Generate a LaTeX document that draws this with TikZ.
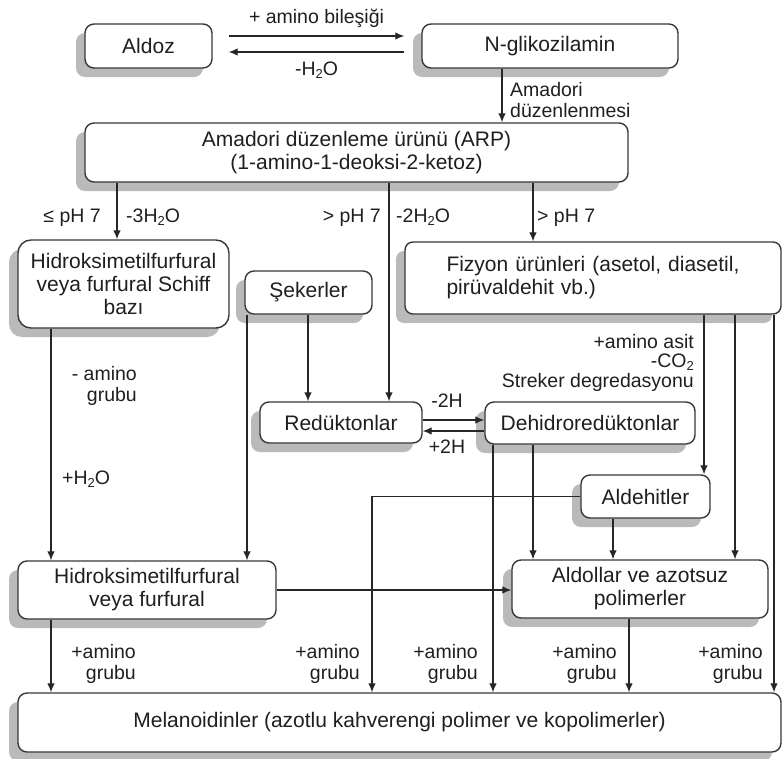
\documentclass[tikz,border=0pt]{standalone}
\usepackage{fontspec}
\setmainfont{Liberation Sans}
\usetikzlibrary{arrows.meta,shadows}
\newcommand{\subtwo}{\raisebox{-3pt}{\fontsize{13}{13}\selectfont 2}}
\begin{document}
\begin{tikzpicture}[x=1pt,y=-1pt,
  box/.style={draw=black!78, line width=1.4pt, rounded corners=9pt, fill=white, text=black!88,
    align=center, inner sep=0pt, font=\fontsize{21}{23}\selectfont,
    drop shadow={shadow xshift=-9pt, shadow yshift=-9pt, fill=black!27, opacity=1}},
  arr/.style={draw=black!85, line width=1.1pt, -{Latex[length=9pt,width=7.5pt]}},
  lab/.style={text=black!88, font=\fontsize{19.5}{21}\selectfont, inner sep=0pt}]
\useasboundingbox (0,0) rectangle (782,758);

% column / row coordinates
\coordinate (x51) at (51,0);
\coordinate (x117) at (117,0);
\coordinate (x247) at (247,0);
\coordinate (x308) at (308,0);
\coordinate (x372) at (372,0);
\coordinate (x389) at (389,0);
\coordinate (x493) at (493,0);
\coordinate (x502) at (502,0);
\coordinate (x533) at (533,0);
\coordinate (x613) at (613,0);
\coordinate (x629) at (629,0);
\coordinate (x704) at (704,0);
\coordinate (x735) at (735,0);
\coordinate (x774) at (774,0);
\coordinate (y420) at (0,420);
\coordinate (y431) at (0,431);

% nodes
\node[box, minimum width=127pt, minimum height=44pt] (aldoz) at (148.5,46) {Aldoz};
\node[box, minimum width=256pt, minimum height=44pt] (nglik) at (550,46) {N-glikozilamin};
\node[box, minimum width=543pt, minimum height=59pt] (arp) at (356.5,152.5) {Amadori düzenleme ürünü (ARP)\\(1-amino-1-deoksi-2-ketoz)};
\node[box, rounded corners=13pt, minimum width=211pt, minimum height=88pt] (hmfs) at (123.5,284) {Hidroksimetilfurfural\\veya furfural Schiff\\bazı};
\node[box, minimum width=127pt, minimum height=43pt] (seker) at (308.5,292.5) {Şekerler};
\node[box, rounded corners=8pt, minimum width=376pt, minimum height=72pt, text width=293pt, align=left] (fiz) at (593,278) {Fizyon ürünleri (asetol, diasetil,\\pirüvaldehit vb.)};
\node[box, minimum width=162pt, minimum height=41pt] (red) at (341,422.5) {Redüktonlar};
\node[box, minimum width=210pt, minimum height=42pt] (dehid) at (590,423) {Dehidroredüktonlar};
\node[box, minimum width=129pt, minimum height=43pt] (ald) at (645.5,496.5) {Aldehitler};
\node[box, minimum width=258pt, minimum height=58pt] (hmf) at (147,590) {Hidroksimetilfurfural\\veya furfural};
\node[box, minimum width=256pt, minimum height=58pt] (aldol) at (640,589) {Aldollar ve azotsuz\\polimerler};
\node[box, minimum width=763pt, minimum height=59pt] (mel) at (399.5,722.5) {Melanoidinler (azotlu kahverengi polimer ve kopolimerler)};

% connectors
\draw[arr] ([xshift=16pt,yshift=10pt]aldoz.east) -- ([xshift=-17pt,yshift=10pt]nglik.west)
  node[lab, midway, above=8pt] (lab1) {+ amino bileşiği};
\draw[arr] ([xshift=-17pt,yshift=-6pt]nglik.west) -- ([xshift=16pt,yshift=-6pt]aldoz.east)
  node[lab, midway, below=9.5pt] (lab2) {-H\subtwo O};
\draw[arr] (nglik.south -| x502) -- (arp.north -| x502);
\draw[arr] (arp.south -| x117) -- (hmfs.north -| x117);
\draw[arr] (arp.south -| x389) -- (red.north -| x389);
\draw[arr] (arp.south -| x533) -- (fiz.north -| x533);
\draw[arr] (hmfs.south -| x51) -- (hmf.north -| x51);
\draw[arr] (seker.south -| x308) -- (red.north -| x308);
\draw[arr] (seker.south -| x247) -- (hmf.north -| x247);
\draw[arr] (red.east |- y420) -- (dehid.west |- y420);
\draw[arr] (dehid.west |- y431) -- (red.east |- y431);
\draw[arr] (fiz.south -| x704) -- (ald.north -| x704);
\draw[arr] (fiz.south -| x735) -- (aldol.north -| x735);
\draw[arr] (fiz.south -| x774) -- (mel.north -| x774);
\draw[arr] (dehid.south -| x493) -- (mel.north -| x493);
\draw[arr] (dehid.south -| x533) -- (aldol.north -| x533);
\draw[arr] (ald.south -| x613) -- (aldol.north -| x613);
\draw[arr] (ald.west) -| (mel.north -| x372);
\draw[arr] (hmf.east) -- (aldol.west |- hmf.east);
\draw[arr] (hmf.south -| x51) -- (mel.north -| x51);
\draw[arr] (aldol.south -| x629) -- (mel.north -| x629);

% labels
\node[lab, anchor=west, align=left] (lab3) at (510,100) {Amadori\\düzenlenmesi};
\node[lab, anchor=base east] (lab4) at (101,222) {≤ pH 7};
\node[lab, anchor=base west] (lab5) at (126,222) {-3H\subtwo O};
\node[lab, anchor=base east] (lab6) at (381,222) {> pH 7};
\node[lab, anchor=base west] (lab7) at (396,222) {-2H\subtwo O};
\node[lab, anchor=base west] (lab8) at (537,222) {> pH 7};
\node[lab, anchor=east, align=right] (lab9) at (137,386) {- amino\\grubu};
\node[lab, anchor=base west] (lab10) at (62,484) {+H\subtwo O};
\node[lab, anchor=base east] (lab11a) at (694,348) {+amino asit};
\node[lab, anchor=base east] (lab11b) at (694,367) {-CO\subtwo};
\node[lab, anchor=base east] (lab11c) at (694,387) {Streker degredasyonu};
\node[lab, anchor=base] (lab12) at (447,407) {-2H};
\node[lab, anchor=base] (lab13) at (447,453) {+2H};
\node[lab, anchor=east, align=right] (lab14) at (136,664) {+amino\\grubu};
\node[lab, anchor=east, align=right] (lab15) at (360,664) {+amino\\grubu};
\node[lab, anchor=east, align=right] (lab16) at (478,664) {+amino\\grubu};
\node[lab, anchor=east, align=right] (lab17) at (617,664) {+amino\\grubu};
\node[lab, anchor=east, align=right] (lab18) at (763,664) {+amino\\grubu};
\end{tikzpicture}
\end{document}
